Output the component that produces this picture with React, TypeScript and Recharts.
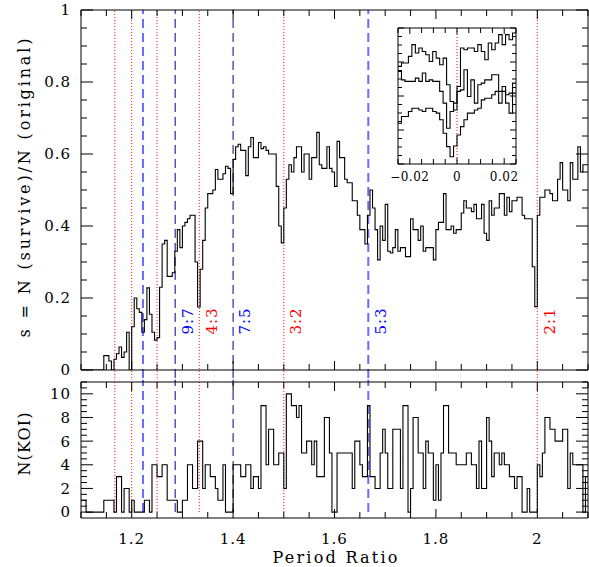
import React from 'react';
import { LineChart, Line, XAxis, YAxis, ReferenceLine, ReferenceDot } from 'recharts';

const FONT = '"DejaVu Serif", "Liberation Serif", serif';

// survival fraction s, bins of 0.005 starting at 1.100
const SURVIVE_START = 1.1;
const SURVIVE_BIN = 0.005;
const SURVIVE = [
  0, 0, 0, 0, 0, 0, 0, 0, 0, 0.04,
  0.04, 0.025, 0, 0.03, 0.045, 0.064, 0.035, 0.05, 0.105, 0,
  0.12, 0.2, 0.17, 0.16, 0.105, 0.14, 0.228, 0.155, 0.105, 0.083,
  0.09, 0.23, 0.35, 0.36, 0.26, 0.26, 0.27, 0.33, 0.39, 0.34,
  0.4, 0.41, 0.42, 0.43, 0.43, 0.3, 0.175, 0.28, 0.36, 0.45,
  0.49, 0.49, 0.5, 0.557, 0.53, 0.53, 0.545, 0.566, 0.56, 0.49,
  0.585, 0.62, 0.627, 0.61, 0.61, 0.54, 0.62, 0.646, 0.59, 0.59,
  0.632, 0.615, 0.62, 0.61, 0.6, 0.6, 0.6, 0.51, 0.4, 0.353,
  0.45, 0.53, 0.57, 0.55, 0.59, 0.62, 0.62, 0.55, 0.6, 0.6,
  0.53, 0.59, 0.59, 0.66, 0.57, 0.56, 0.56, 0.62, 0.56, 0.55,
  0.51, 0.635, 0.59, 0.59, 0.53, 0.52, 0.52, 0.47, 0.47, 0.43,
  0.39, 0.39, 0.35, 0.43, 0.5, 0.45, 0.39, 0.306, 0.4, 0.36,
  0.46, 0.33, 0.325, 0.34, 0.39, 0.33, 0.34, 0.34, 0.315, 0.315,
  0.42, 0.39, 0.39, 0.36, 0.4, 0.33, 0.34, 0.34, 0.34, 0.306,
  0.39, 0.41, 0.41, 0.49, 0.39, 0.39, 0.4, 0.38, 0.39, 0.39,
  0.436, 0.47, 0.45, 0.45, 0.44, 0.46, 0.42, 0.42, 0.46, 0.38,
  0.36, 0.47, 0.43, 0.45, 0.45, 0.49, 0.49, 0.43, 0.48, 0.44,
  0.47, 0.47, 0.48, 0.48, 0.43, 0.42, 0.42, 0.42, 0.287, 0.176,
  0.43, 0.48, 0.48, 0.5, 0.5, 0.49, 0.47, 0.47, 0.53, 0.576,
  0.5, 0.5, 0.47, 0.576, 0.53, 0.53, 0.62, 0.55, 0.57, 0.57,
];

// number of KOI pairs, read on a 0.005 grid starting at 1.100
const KOI_START = 1.1;
const KOI_BIN = 0.005;
const N_KOI = [
  1, 1, 0, 0, 0, 0, 0, 0, 0, 1,
  1, 1, 1, 0, 3, 3, 0, 2, 2, 0,
  1, 0, 0, 0, 0, 1, 1, 0, 4, 4,
  3, 3, 4, 4, 1, 1, 1, 1, 0, 0,
  1, 1, 4, 4, 2, 2, 6, 6, 2, 4,
  4, 3, 3, 2, 1, 1, 4, 0, 0, 0,
  4, 4, 4, 3, 3, 4, 4, 2, 3, 3,
  2, 9, 9, 4, 7, 7, 4, 4, 5, 5,
  2, 10, 10, 9, 9, 8, 9, 5, 5, 6,
  6, 4, 6, 3, 3, 3, 8, 8, 5, 0,
  0, 5, 5, 5, 5, 5, 5, 2, 6, 6,
  4, 3, 3, 9, 3, 3, 2, 2, 5, 7,
  5, 2, 2, 7, 7, 7, 2, 9, 9, 0,
  2, 8, 8, 5, 5, 2, 6, 5, 5, 1,
  4, 1, 5, 9, 9, 5, 5, 5, 4, 4,
  4, 4, 5, 5, 4, 4, 2, 6, 2, 2,
  8, 6, 3, 5, 5, 4, 5, 4, 4, 3,
  3, 2, 3, 3, 0, 0, 2, 0, 0, 0,
  4, 3, 5, 8, 8, 7, 7, 6, 6, 6,
  7, 7, 2, 5, 4, 4, 4, 4, 0, 3,
];

// inset: s near a resonance, three curves
const INSET_START = -0.025;
const INSET_BIN = 0.05 / 34;
const INSET_HIGH = [
  0.574, 0.594, 0.594, 0.633, 0.702, 0.653, 0.682, 0.662, 0.643, 0.603,
  0.662, 0.623, 0.584, 0.623, 0.466, 0.368, 0.318, 0.456, 0.682, 0.672,
  0.682, 0.682, 0.662, 0.702, 0.662, 0.613, 0.712, 0.672, 0.712, 0.761,
  0.702, 0.761, 0.731, 0.771,
];
const INSET_MID = [
  0.545, 0.495, 0.486, 0.486, 0.486, 0.505, 0.486, 0.535, 0.486, 0.495,
  0.486, 0.486, 0.427, 0.358, 0.21, 0.309, 0.358, 0.427, 0.436, 0.554,
  0.397, 0.495, 0.358, 0.466, 0.476, 0.495, 0.495, 0.525, 0.525, 0.358,
  0.456, 0.358, 0.299, 0.476,
];
const INSET_LOW = [
  0.24, 0.279, 0.279, 0.309, 0.328, 0.328, 0.318, 0.309, 0.328, 0.328,
  0.309, 0.299, 0.26, 0.181, 0.102, 0.043, 0.106, 0.171, 0.22, 0.26,
  0.299, 0.299, 0.318, 0.328, 0.377, 0.387, 0.387, 0.407, 0.427, 0.427,
  0.427, 0.407, 0.417, 0.417,
];

const RESONANCES = [
  { ratio: 7 / 6, kind: 'red' },
  { ratio: 6 / 5, kind: 'red' },
  { ratio: 11 / 9, kind: 'lightblue' },
  { ratio: 5 / 4, kind: 'red' },
  { ratio: 9 / 7, kind: 'blue' },
  { ratio: 4 / 3, kind: 'red' },
  { ratio: 7 / 5, kind: 'blue' },
  { ratio: 3 / 2, kind: 'red' },
  { ratio: 5 / 3, kind: 'lightblue' },
  { ratio: 2, kind: 'red' },
];
const RES_LABELS = [
  { ratio: 9 / 7, text: '9:7', kind: 'blue' },
  { ratio: 4 / 3, text: '4:3', kind: 'red' },
  { ratio: 7 / 5, text: '7:5', kind: 'blue' },
  { ratio: 3 / 2, text: '3:2', kind: 'red' },
  { ratio: 5 / 3, text: '5:3', kind: 'blue' },
  { ratio: 2, text: '2:1', kind: 'red' },
];
const LABEL_LEVEL = 0.136;

const range = (a: number, b: number, step: number) => {
  const n = Math.round((b - a) / step);
  return Array.from({ length: n + 1 }, (_, i) => +(a + i * step).toFixed(6));
};

const X_TICKS = range(1.1, 2.1, 0.05);
const X_MAJOR = [1.2, 1.4, 1.6, 1.8, 2];
const X_LABELS = ['1.2', '1.4', '1.6', '1.8', '2'];
const S_TICKS = range(0, 1, 0.05);
const S_MAJOR = [0, 0.2, 0.4, 0.6, 0.8, 1];
const S_LABELS = ['0', '0.2', '0.4', '0.6', '0.8', '1'];
const K_TICKS = range(0, 11, 0.5);
const K_MAJOR = [0, 2, 4, 6, 8, 10];
const K_LABELS = ['0', '2', '4', '6', '8', '10'];
const I_X_TICKS = range(-0.025, 0.025, 0.005);
const I_X_MAJOR = [-0.02, 0, 0.02];
const I_X_LABELS = ['\u22120.02', '0', '0.02'];
const I_Y_TICKS = range(0, 0.8, 0.05);
const I_Y_MAJOR = [0, 0.2, 0.4, 0.6, 0.8];

const LINE_STYLE: Record<string, { stroke: string; dash: string; width: number }> = {
  red: { stroke: '#ff0000', dash: '1 2', width: 1 },
  blue: { stroke: '#00008c', dash: '9 5', width: 1 },
  lightblue: { stroke: '#6a6aff', dash: '9 5', width: 2 },
};
const TEXT_COLOR: Record<string, string> = { red: '#ff0000', blue: '#0000ff' };

function stepRows(start: number, bin: number, series: Record<string, number[]>) {
  const keys = Object.keys(series);
  const n = series[keys[0]].length;
  const rows: Record<string, number>[] = [];
  for (let i = 0; i <= n; i++) {
    const row: Record<string, number> = { x: start + i * bin };
    keys.forEach((k) => {
      row[k] = series[k][Math.min(i, n - 1)];
    });
    rows.push(row);
  }
  return rows;
}

const topData = stepRows(SURVIVE_START, SURVIVE_BIN, { s: SURVIVE });
const koiData = stepRows(KOI_START, KOI_BIN, { n: N_KOI });
const insetData = stepRows(INSET_START, INSET_BIN, { a: INSET_HIGH, b: INSET_MID, c: INSET_LOW });

const near = (a: number, b: number) => Math.abs(a - b) < 1e-6;

type Side = 'bottom' | 'top' | 'left' | 'right';
interface TickSpec {
  side: Side;
  gap: number;
  major: number[];
  labels?: string[];
  majorLen: number;
  minorLen: number;
  fontSize?: number;
  spacing?: number;
}

function AxisTick(props: any) {
  const { x = 0, y = 0, payload, spec } = props;
  const s: TickSpec = spec;
  const v = payload ? payload.value : 0;
  const idx = s.major.findIndex((m) => near(m, v));
  const len = idx >= 0 ? s.majorLen : s.minorLen;
  const text = s.labels && idx >= 0 ? s.labels[idx] : null;
  const textStyle = {
    fontFamily: FONT,
    fontSize: s.fontSize ?? 15,
    letterSpacing: s.spacing ?? 1,
    fill: '#000',
  };
  if (s.side === 'bottom') {
    const ay = y - s.gap;
    return (
      <g>
        <line x1={x} x2={x} y1={ay} y2={ay - len} stroke="#000" />
        {text && (
          <text x={x} y={y} dy="0.71em" textAnchor="middle" style={textStyle}>
            {text}
          </text>
        )}
      </g>
    );
  }
  if (s.side === 'top') {
    const ay = y + s.gap;
    return <line x1={x} x2={x} y1={ay} y2={ay + len} stroke="#000" />;
  }
  if (s.side === 'left') {
    const ax = x + s.gap;
    return (
      <g>
        <line x1={ax} x2={ax + len} y1={y} y2={y} stroke="#000" />
        {text && (
          <text x={x} y={y} dy="0.36em" textAnchor="end" style={textStyle}>
            {text}
          </text>
        )}
      </g>
    );
  }
  const ax = x - s.gap;
  return <line x1={ax} x2={ax - len} y1={y} y2={y} stroke="#000" />;
}

const AXIS_LINE = { stroke: '#000', strokeWidth: 1 };

function ResText({ cx, cy, text, kind }: any) {
  return (
    <text
      x={cx + 12}
      y={cy}
      transform={`rotate(-90 ${cx + 12} ${cy})`}
      textAnchor="middle"
      dy="0.36em"
      style={{ fontFamily: FONT, fontSize: 15, fill: TEXT_COLOR[kind], letterSpacing: 1 }}
    >
      {text}
    </text>
  );
}

interface FrameProps {
  xDomain: [number, number];
  yDomain: [number, number];
  xTicks: number[];
  yTicks: number[];
  xMajor: number[];
  yMajor: number[];
  xLabels?: string[];
  yLabels?: string[];
  xGap: number;
  yGap: number;
  xLen: [number, number];
  yLen: [number, number];
  xFont?: number;
  xSpacing?: number;
}

// four axes forming a closed frame with inward ticks
function frameAxes(f: FrameProps) {
  return [
    <XAxis
      key="xb"
      xAxisId="b"
      dataKey="x"
      type="number"
      domain={f.xDomain}
      ticks={f.xTicks}
      interval={0}
      height={1}
      tickSize={0}
      tickMargin={f.xGap}
      tickLine={false}
      axisLine={AXIS_LINE}
      allowDataOverflow
      tick={
        <AxisTick
          spec={{
            side: 'bottom',
            gap: f.xGap,
            major: f.xMajor,
            labels: f.xLabels,
            majorLen: f.xLen[0],
            minorLen: f.xLen[1],
            fontSize: f.xFont,
            spacing: f.xSpacing,
          }}
        />
      }
    />,
    <XAxis
      key="xt"
      xAxisId="t"
      orientation="top"
      dataKey="x"
      type="number"
      domain={f.xDomain}
      ticks={f.xTicks}
      interval={0}
      height={1}
      tickSize={0}
      tickMargin={0}
      tickLine={false}
      axisLine={AXIS_LINE}
      allowDataOverflow
      tick={<AxisTick spec={{ side: 'top', gap: 0, major: f.xMajor, majorLen: f.xLen[0], minorLen: f.xLen[1] }} />}
    />,
    <YAxis
      key="yl"
      yAxisId="l"
      type="number"
      domain={f.yDomain}
      ticks={f.yTicks}
      interval={0}
      width={1}
      tickSize={0}
      tickMargin={f.yGap}
      tickLine={false}
      axisLine={AXIS_LINE}
      allowDataOverflow
      tick={
        <AxisTick
          spec={{ side: 'left', gap: f.yGap, major: f.yMajor, labels: f.yLabels, majorLen: f.yLen[0], minorLen: f.yLen[1] }}
        />
      }
    />,
    <YAxis
      key="yr"
      yAxisId="r"
      orientation="right"
      type="number"
      domain={f.yDomain}
      ticks={f.yTicks}
      interval={0}
      width={1}
      tickSize={0}
      tickMargin={0}
      tickLine={false}
      axisLine={AXIS_LINE}
      allowDataOverflow
      tick={<AxisTick spec={{ side: 'right', gap: 0, major: f.yMajor, majorLen: f.yLen[0], minorLen: f.yLen[1] }} />}
    />,
  ];
}

function TopPanel() {
  return (
    <LineChart width={589} height={380} data={topData} margin={{ top: 9, right: 0, bottom: 9, left: 80 }}>
      {frameAxes({
        xDomain: [1.1, 2.1],
        yDomain: [0, 1],
        xTicks: X_TICKS,
        yTicks: S_TICKS,
        xMajor: X_MAJOR,
        yMajor: S_MAJOR,
        yLabels: S_LABELS,
        xGap: 0,
        yGap: 10,
        xLen: [9, 6],
        yLen: [12, 6],
      })}
      {RESONANCES.map((r) => (
        <ReferenceLine
          key={r.ratio}
          xAxisId="b"
          yAxisId="l"
          segment={[{ x: r.ratio, y: -0.022 }, { x: r.ratio, y: 1 }]}
          ifOverflow="visible"
          stroke={LINE_STYLE[r.kind].stroke}
          strokeDasharray={LINE_STYLE[r.kind].dash}
          strokeWidth={LINE_STYLE[r.kind].width}
        />
      ))}
      {RES_LABELS.map((l) => (
        <ReferenceDot
          key={l.text}
          xAxisId="b"
          yAxisId="l"
          x={l.ratio}
          y={LABEL_LEVEL}
          r={0}
          ifOverflow="visible"
          shape={(p: any) => <ResText cx={p.cx} cy={p.cy} text={l.text} kind={l.kind} />}
        />
      ))}
      <Line
        xAxisId="b"
        yAxisId="l"
        dataKey="s"
        type="stepAfter"
        stroke="#000"
        strokeWidth={1.1}
        dot={false}
        activeDot={false}
        isAnimationActive={false}
      />
    </LineChart>
  );
}

function KoiPanel() {
  return (
    <LineChart width={589} height={195} data={koiData} margin={{ top: 9, right: 0, bottom: 48, left: 80 }}>
      {frameAxes({
        xDomain: [1.1, 2.1],
        yDomain: [-0.5, 11],
        xTicks: X_TICKS,
        yTicks: K_TICKS,
        xMajor: X_MAJOR,
        yMajor: K_MAJOR,
        xLabels: X_LABELS,
        yLabels: K_LABELS,
        xGap: 15,
        yGap: 10,
        xLen: [9, 6],
        yLen: [12, 6],
      })}
      {RESONANCES.map((r) => (
        <ReferenceLine
          key={r.ratio}
          xAxisId="b"
          yAxisId="l"
          segment={[{ x: r.ratio, y: 0 }, { x: r.ratio, y: 11.2 }]}
          ifOverflow="visible"
          stroke={LINE_STYLE[r.kind].stroke}
          strokeDasharray={LINE_STYLE[r.kind].dash}
          strokeWidth={LINE_STYLE[r.kind].width}
        />
      ))}
      <Line
        xAxisId="b"
        yAxisId="l"
        dataKey="n"
        type="stepAfter"
        stroke="#000"
        strokeWidth={1.1}
        dot={false}
        activeDot={false}
        isAnimationActive={false}
      />
    </LineChart>
  );
}

function Inset() {
  const series = ['a', 'b', 'c'];
  return (
    <LineChart width={150} height={172} data={insetData} margin={{ top: 9, right: 13, bottom: 25, left: 17 }}>
      {frameAxes({
        xDomain: [-0.025, 0.025],
        yDomain: [0, 0.8],
        xTicks: I_X_TICKS,
        yTicks: I_Y_TICKS,
        xMajor: I_X_MAJOR,
        yMajor: I_Y_MAJOR,
        xLabels: I_X_LABELS,
        xGap: 8,
        yGap: 0,
        xLen: [6, 5],
        yLen: [6, 4],
        xFont: 12,
        xSpacing: 0.5,
      })}
      <ReferenceLine xAxisId="b" yAxisId="l" x={0} stroke="#ff0000" strokeDasharray="1 2" />
      {series.map((k) => (
        <Line
          key={k}
          xAxisId="b"
          yAxisId="l"
          dataKey={k}
          type="stepAfter"
          stroke="#000"
          strokeWidth={1.1}
          dot={false}
          activeDot={false}
          isAnimationActive={false}
        />
      ))}
    </LineChart>
  );
}

export default function App() {
  const titleStyle = { fontFamily: FONT, fontSize: 16, fill: '#000' };
  return (
    <div style={{ position: 'absolute', left: 0, top: 0, width: 589, height: 567, background: '#fff' }}>
      <div style={{ position: 'absolute', left: 0, top: 0 }}>
        <TopPanel />
      </div>
      <div style={{ position: 'absolute', left: 0, top: 372 }}>
        <KoiPanel />
      </div>
      <div style={{ position: 'absolute', left: 380, top: 18 }}>
        <Inset />
      </div>
      <svg width={589} height={567} style={{ position: 'absolute', left: 0, top: 0, pointerEvents: 'none' }}>
        <text
          x={24}
          y={188}
          transform="rotate(-90 24 188)"
          textAnchor="middle"
          dy="0.36em"
          textLength={299}
          lengthAdjust="spacing"
          style={titleStyle}
        >
          s = N (survive)/N (original)
        </text>
        <text
          x={24}
          y={444}
          transform="rotate(-90 24 444)"
          textAnchor="middle"
          dy="0.36em"
          textLength={63}
          lengthAdjust="spacing"
          style={titleStyle}
        >
          N(KOI)
        </text>
        <text x={335} y={557} textAnchor="middle" dy="0.36em" textLength={125} lengthAdjust="spacing" style={titleStyle}>
          Period Ratio
        </text>
      </svg>
    </div>
  );
}
